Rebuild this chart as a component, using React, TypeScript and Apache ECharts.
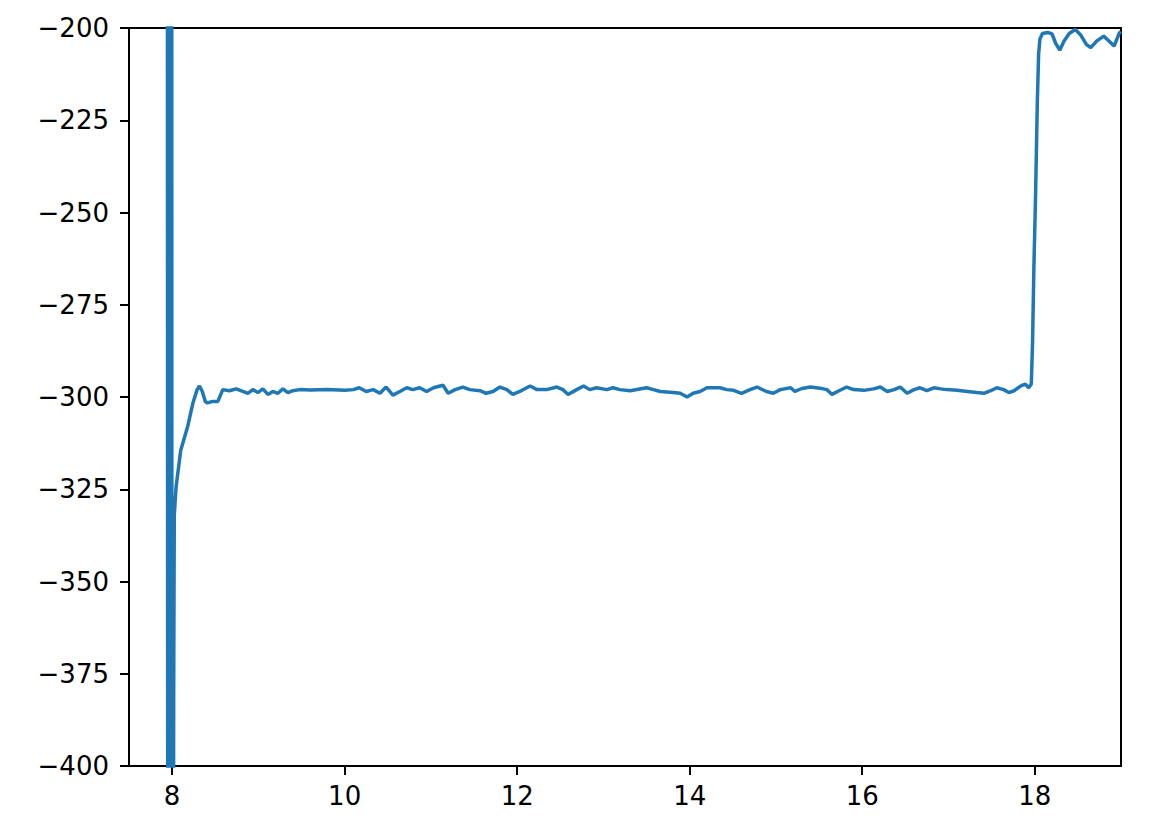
import React, { useEffect, useRef } from "react";
import * as echarts from "echarts";

const xTickValues = [8, 10, 12, 14, 16, 18];
const yTickInterval = 25;

// Wild oscillation (spike) near x = 8
const spikePoints: [number, number][] = [
  [7.945, -150], [7.95, -520], [7.955, -120], [7.96, -560], [7.965, -140],
  [7.97, -540], [7.975, -110], [7.98, -580], [7.985, -130], [7.99, -600],
  [7.995, -100], [8.0, -700],
];

// Recovery / settling toward plateau
const settlePoints: [number, number][] = [
  [8.018, -380], [8.025, -332], [8.046, -324.3], [8.1, -314.4], [8.18, -308],
  [8.24, -301.7], [8.29, -298], [8.317, -297], [8.35, -298.5], [8.385, -301.3],
  [8.41, -301.6], [8.47, -301.2], [8.53, -301.2], [8.587, -298],
];

// Noisy plateau around -298
const plateauPoints: [number, number][] = [
  [8.665, -298.3], [8.742, -297.8], [8.82, -298.5], [8.878, -299], [8.936, -298],
  [8.994, -298.8], [9.052, -297.8], [9.11, -299.3], [9.168, -298.5], [9.226, -299],
  [9.284, -297.8], [9.342, -298.8], [9.4, -298.3], [9.477, -298], [9.6, -298.1],
  [9.8, -298], [10.0, -298.2], [10.1, -298],
  [10.17, -297.5], [10.25, -298.5], [10.33, -298], [10.41, -299], [10.48, -297.3],
  [10.56, -299.5], [10.64, -298.5], [10.72, -297.5], [10.79, -298], [10.87, -297.5],
  [10.95, -298.5], [11.03, -297.5], [11.14, -296.8], [11.2, -299], [11.28, -298],
  [11.37, -297.3], [11.45, -298], [11.57, -298.3], [11.64, -299], [11.72, -298.5],
  [11.8, -297.3], [11.88, -298], [11.95, -299.3], [12.03, -298.5], [12.15, -297],
  [12.23, -298], [12.34, -298], [12.46, -297.3], [12.53, -298], [12.59, -299.3],
  [12.69, -298], [12.77, -297], [12.84, -298], [12.92, -297.5], [13.04, -298],
  [13.11, -297.5], [13.19, -298], [13.31, -298.3], [13.5, -297.5], [13.58, -298],
  [13.66, -298.5], [13.81, -298.8], [13.89, -299], [13.97, -300], [14.04, -299],
  [14.12, -298.5], [14.2, -297.5], [14.35, -297.5], [14.43, -298], [14.51, -298.2],
  [14.6, -299], [14.7, -298], [14.78, -297.3], [14.89, -298.5], [14.97, -299],
  [15.05, -298], [15.17, -297.5], [15.22, -298.5], [15.3, -297.7], [15.4, -297.3],
  [15.51, -297.6], [15.59, -298], [15.65, -299.3], [15.73, -298.3], [15.82, -297.3],
  [15.9, -298], [16.02, -298.2], [16.13, -297.8], [16.21, -297.3], [16.29, -298.5],
  [16.37, -298], [16.44, -297.3], [16.52, -299], [16.6, -298], [16.67, -297.5],
  [16.75, -298.3], [16.83, -297.5], [16.91, -297.8], [16.98, -298], [17.1, -298.2],
  [17.22, -298.5], [17.33, -298.8], [17.41, -299], [17.49, -298.3], [17.56, -297.5],
  [17.64, -298], [17.7, -298.8], [17.76, -298.3], [17.84, -297], [17.89, -296.5],
  [17.93, -297.5], [17.96, -296.5],
];

// Step up near x = 18 and upper plateau
const stepPoints: [number, number][] = [
  [17.975, -285], [17.99, -265], [18.01, -245], [18.03, -220], [18.045, -207],
  [18.06, -203], [18.09, -201.5], [18.15, -201.2], [18.2, -201.6], [18.24, -204],
  [18.29, -206], [18.34, -203.5], [18.4, -201.5], [18.47, -200.4], [18.53, -201.8],
  [18.6, -204.5], [18.65, -205.3], [18.72, -203.5], [18.8, -202.2], [18.86, -203.5],
  [18.92, -204.9], [18.98, -201.4], [19.0, -201],
];

const FONT = "DejaVu Sans";

export default function App() {
  const ref = useRef<HTMLDivElement>(null);
  useEffect(() => {
    const chart = echarts.init(ref.current!, null, { renderer: "svg" });
    const data = [...spikePoints, ...settlePoints, ...plateauPoints, ...stepPoints];
    chart.setOption({
      animation: false,
      backgroundColor: "#ffffff",
      grid: {
        left: 129,
        right: 36,
        top: 28,
        bottom: 72,
        show: true,
        borderColor: "#000",
        borderWidth: 2,
        backgroundColor: "transparent",
      },
      xAxis: {
        type: "value",
        min: 7.5,
        max: 19,
        splitLine: { show: false },
        axisLine: { show: true, onZero: false, lineStyle: { color: "#000", width: 2 } },
        axisTick: {
          show: true,
          length: 9,
          customValues: xTickValues,
          lineStyle: { color: "#000", width: 2 },
        },
        axisLabel: {
          customValues: xTickValues,
          fontSize: 26,
          fontFamily: FONT,
          color: "#000",
          margin: 17,
        },
      },
      yAxis: {
        type: "value",
        min: -400,
        max: -200,
        interval: yTickInterval,
        splitLine: { show: false },
        axisLine: { show: true, onZero: false, lineStyle: { color: "#000", width: 2 } },
        axisTick: { show: true, length: 9, lineStyle: { color: "#000", width: 2 } },
        axisLabel: {
          fontSize: 26,
          fontFamily: FONT,
          color: "#000",
          margin: 20,
          formatter: (v: number) => String(v).replace("-", "\u2212"),
        },
      },
      series: [
        {
          type: "line",
          data,
          symbol: "none",
          showSymbol: false,
          clip: true,
          lineStyle: { color: "#1f77b4", width: 3.5 },
        },
      ],
    });
    return () => chart.dispose();
  }, []);
  return (
    <div
      ref={ref}
      style={{ position: "fixed", left: 0, top: 0, width: 1157, height: 838, background: "#fff" }}
    />
  );
}
